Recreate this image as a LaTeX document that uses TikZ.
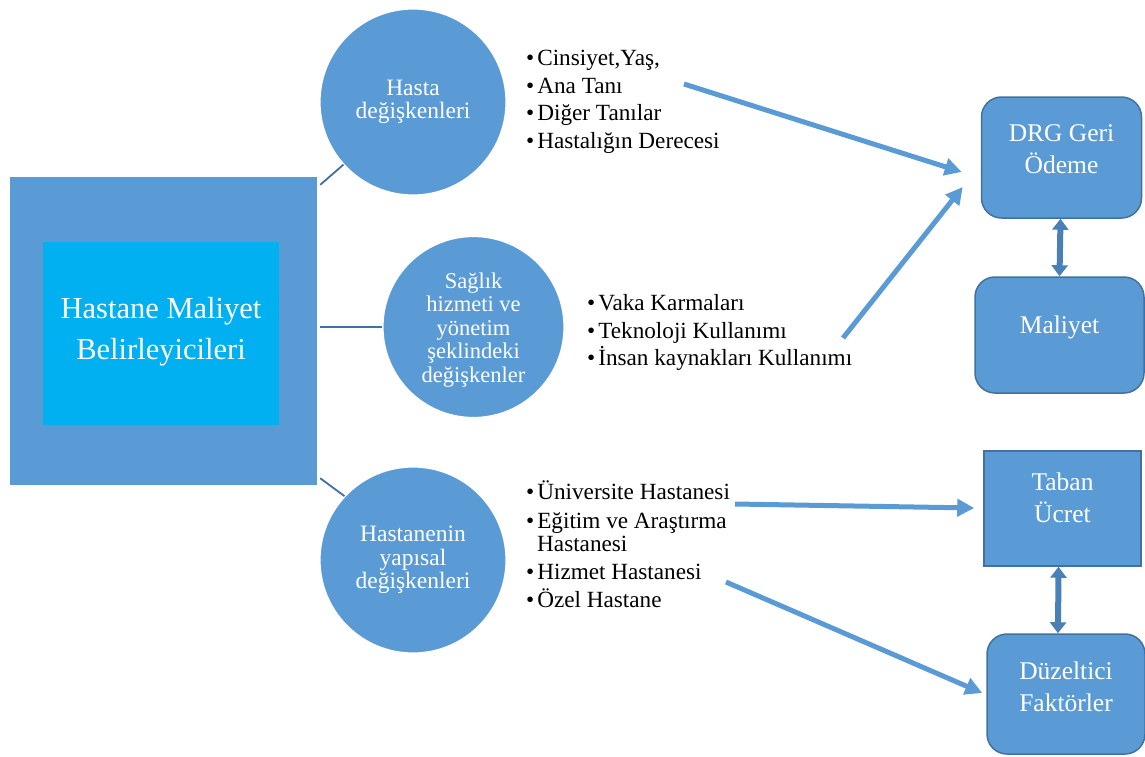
\documentclass[tikz,border=0pt]{standalone}
\usepackage{fontspec}
\setmainfont{Liberation Serif}
\usetikzlibrary{arrows.meta,calc}
\definecolor{cfill}{HTML}{5B9BD5}
\definecolor{cedge}{HTML}{41719C}
\definecolor{cinner}{HTML}{00B0F0}
\definecolor{cdbl}{HTML}{4A80B8}
\tikzset{
  outerbox/.style={rectangle, fill=cfill, draw=none, minimum width=307pt, minimum height=308pt, inner sep=0pt},
  innerbox/.style={rectangle, fill=cinner, draw=none, minimum width=236pt, minimum height=183pt, inner sep=0pt},
  bigtext/.style={text=white, align=center, inner sep=0pt, font=\fontsize{30.5}{41}\selectfont},
  circ/.style={circle, fill=cfill, draw=white, line width=1.2pt, minimum size=#1, inner sep=0pt, text=white, align=center, font=\fontsize{23.5}{23.5}\selectfont},
  circtext/.style={text=white, align=center, inner sep=0pt, font=\fontsize{22.5}{23.5}\selectfont},
  rbox/.style={rectangle, rounded corners=20pt, fill=cfill, draw=cedge, line width=1.5pt, inner sep=0pt},
  sbox/.style={rectangle, fill=cfill, draw=cedge, line width=1.5pt, inner sep=0pt},
  boxtext/.style={text=white, align=center, font=\fontsize{25.5}{32}\selectfont, inner sep=0pt},
  item/.style={anchor=base west, inner sep=0pt, font=\fontsize{23.2}{24}\selectfont},
  link/.style={draw=cedge, line width=1.8pt},
  bigarrow/.style={draw=cfill, line width=5pt, -{Triangle[length=17pt,width=17pt]}},
  dblarrow/.style={draw=cdbl, line width=6pt, {Triangle[length=11pt,width=16pt]}-{Triangle[length=11pt,width=16pt]}}
}
\begin{document}
\begin{tikzpicture}[x=1pt,y=-1pt]
\useasboundingbox (0,0) rectangle (1145,756);

% left block
\node[outerbox] (main) at (163.5,331) {};
\node[innerbox] (inner) at (161,333.5) {};
\node[bigtext] (maint) at ($(inner.center)+(0,-2)$) {Hastane Maliyet\\Belirleyicileri};

% circles
\node[circ=186pt] (c1) at (413,102) {Hasta\\değişkenleri};
\node[circ=181pt] (c2) at (473.5,327) {};
\node[circtext] (c2t) at ($(c2.center)+(0,3)$) {Sağlık\\hizmeti ve\\yönetim\\şeklindeki\\değişkenler};
\node[circ=186pt] (c3) at (413,560) {Hastanenin\\yapısal\\değişkenleri};

\draw[link] ($(main.north east)+(3,8)$) -- (c1.222);
\draw[link] ($(main.east)+(3,-4)$) -- (c2.west);
\draw[link] ($(main.south east)+(3,-7)$) -- (c3.137);

% lists
\node[item] (a1) at (526,65.5) {•\hspace{3pt}Cinsiyet,Yaş,};
\node[item] (a2) at (526,93) {•\hspace{3pt}Ana Tanı};
\node[item] (a3) at (526,120.5) {•\hspace{3pt}Diğer Tanılar};
\node[item] (a4) at (526,148) {•\hspace{3pt}Hastalığın Derecesi};

\node[item] (b1) at (587,310) {•\hspace{3pt}Vaka Karmaları};
\node[item] (b2) at (587,338) {•\hspace{3pt}Teknoloji Kullanımı};
\node[item] (b3) at (587,365) {•\hspace{3pt}İnsan kaynakları Kullanımı};

\node[item] (d1) at (526,499) {•\hspace{3pt}Üniversite Hastanesi};
\node[item] (d2) at (526,528) {•\hspace{3pt}Eğitim ve Araştırma};
\node[item] (d2b) at (537,551) {Hastanesi};
\node[item] (d3) at (526,579) {•\hspace{3pt}Hizmet Hastanesi};
\node[item] (d4) at (526,607) {•\hspace{3pt}Özel Hastane};

% right boxes
\node[rbox, minimum width=160pt, minimum height=121pt] (drg) at (1061.5,157.5) {};
\node[boxtext] (drgt) at ($(drg.center)+(0,-8)$) {DRG Geri\\Ödeme};
\node[rbox, minimum width=169pt, minimum height=116pt] (mal) at (1059.5,335) {};
\node[boxtext] (malt) at ($(mal.center)+(0,-8)$) {Maliyet};
\node[sbox, minimum width=157pt, minimum height=115pt] (tab) at (1062.5,508.5) {};
\node[boxtext] (tabt) at ($(tab.center)+(0,-11)$) {Taban\\Ücret};
\node[rbox, minimum width=158pt, minimum height=120pt] (duz) at (1066,694) {};
\node[boxtext] (duzt) at ($(duz.center)+(0,-7)$) {Düzeltici\\Faktörler};

\draw[dblarrow] ([xshift=-1pt]drg.south) -- ([xshift=0pt]mal.north);
\draw[dblarrow] ([xshift=-4pt]tab.south) -- ([xshift=-8pt]duz.north);

% big arrows
\coordinate (s1) at (684,84);
\coordinate (s2) at (843,338);
\coordinate (s3) at (735,504);
\coordinate (s4) at (726,582);
\draw[bigarrow] (s1) -- ($(drg.west)+(-19,14.5)$);
\draw[bigarrow] (s2) -- ($(drg.west)+(-18,29.5)$);
\draw[bigarrow] (s3) -- ($(tab.west)+(-9,-0.5)$);
\draw[bigarrow] (s4) -- ($(duz.west)+(-4,-1)$);
\end{tikzpicture}
\end{document}
